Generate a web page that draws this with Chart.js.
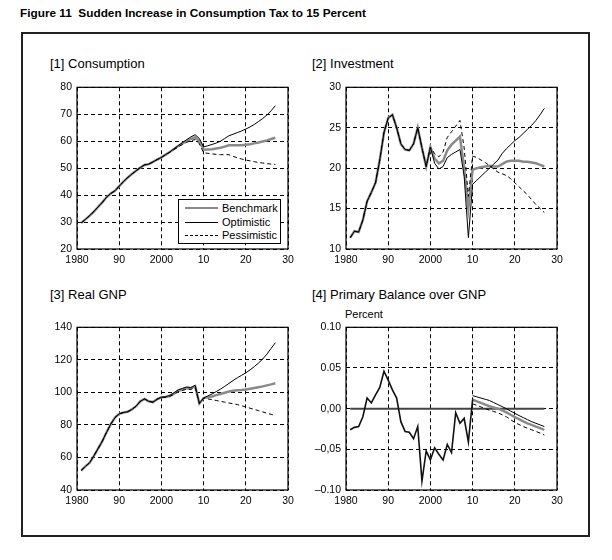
<!DOCTYPE html>
<html><head><meta charset="utf-8">
<script src="https://cdn.jsdelivr.net/npm/chart.js@4.4.1/dist/chart.umd.min.js"></script>
<style>
body{margin:0;width:612px;height:560px;background:#fff;position:relative;font-family:"Liberation Sans",Arial,sans-serif;color:#000;overflow:hidden}
.abs{position:absolute;white-space:pre}
canvas{position:absolute}
.ptitle{position:absolute;font-size:13px;line-height:15px;white-space:nowrap}
.leg{position:absolute;left:178px;top:199px;width:103px;height:45px;border:1px solid #000;background:#fff;box-sizing:border-box;z-index:5}
.row{position:absolute;left:0;height:12px;font-size:11px;line-height:12px}
.sw{position:absolute;left:6px;width:33px;top:6px}
.lt{position:absolute;left:43px;top:0}
</style></head><body>
<div class="abs" style="left:20px;top:6px;font-weight:bold;font-size:11.8px">Figure 11  Sudden Increase in Consumption Tax to 15 Percent</div>
<div class="abs" style="left:21px;top:32px;width:569px;height:505px;border:2px solid #222;box-sizing:border-box"></div>

<div class="ptitle" style="left:50px;top:56px">[1] Consumption</div>
<div class="ptitle" style="left:312px;top:56px">[2] Investment</div>
<div class="ptitle" style="left:50px;top:287px">[3] Real GNP</div>
<div class="ptitle" style="left:312px;top:287px">[4] Primary Balance over GNP</div>
<div class="abs" style="left:345px;top:308px;font-size:11px;line-height:13px">Percent</div>

<canvas id="c1" width="272" height="195" style="left:32px;top:76px"></canvas>
<canvas id="c2" width="272" height="195" style="left:301px;top:76px"></canvas>
<canvas id="c3" width="272" height="196" style="left:32px;top:316px"></canvas>
<canvas id="c4" width="272" height="196" style="left:301px;top:316px"></canvas>

<div class="leg">
  <div class="row" style="top:2px"><div class="sw" style="border-top:2.5px solid #8a8a8a;top:5px"></div><div class="lt">Benchmark</div></div>
  <div class="row" style="top:16px"><div class="sw" style="border-top:1px solid #000"></div><div class="lt">Optimistic</div></div>
  <div class="row" style="top:29px"><div class="sw" style="border-top:1px dashed #000"></div><div class="lt">Pessimistic</div></div>
</div>

<script>
// ---------- categories ----------
const years = [1981,1982,1983,1984,1985,1986,1987,1988,1989,1990,
               1991,1992,1993,1994,1995,1996,1997,1998,1999,2000,
               2001,2002,2003,2004,2005,2006,2007,2008,2009,2010,
               2011,2012,2013,2014,2015,2016,2017,2018,2019,2020,
               2021,2022,2023,2024,2025,2026,2027];
const xTickLabels = ['1980','90','2000','10','20','30'];
const pbYTickLabels = ['\u20130.10','\u20130,05','0,00','0.05','0.10'];

// ---------- [1] Consumption ----------
const consBench = [29.7,31.0,32.4,33.9,35.6,37.3,39.2,40.6,41.6,43.3,
                   45.0,46.5,47.8,49.0,50.2,51.2,51.5,52.3,53.2,54.0,
                   55.0,56.0,57.1,58.2,59.2,60.1,60.9,61.5,60.0,56.8,
                   56.9,57.0,57.3,57.6,58.0,58.5,58.5,58.5,58.5,58.7,
                   58.9,59.2,59.5,59.9,60.3,60.8,61.3];
const consOpt   = [29.7,31.0,32.4,33.9,35.6,37.3,39.2,40.6,41.6,43.3,
                   45.0,46.5,47.8,49.0,50.2,51.2,51.5,52.3,53.2,54.0,
                   55.0,56.0,57.2,58.4,59.5,60.6,61.6,62.4,61.0,57.9,
                   58.3,58.8,59.3,60.0,61.0,62.0,62.6,63.2,63.8,64.5,
                   65.3,66.2,67.3,68.4,69.7,71.3,73.2];
const consPess  = [29.7,31.0,32.4,33.9,35.6,37.3,39.2,40.6,41.6,43.3,
                   45.0,46.5,47.8,49.0,50.2,51.2,51.5,52.3,53.2,54.0,
                   55.0,55.9,56.9,57.9,58.8,59.6,60.2,60.6,59.0,55.7,
                   55.5,55.3,55.1,55.0,55.0,55.0,54.4,53.8,53.4,53.0,
                   52.7,52.4,52.1,51.9,51.7,51.5,51.4];

// ---------- [2] Investment ----------
const invBench = [11.4,12.2,12.1,13.6,15.9,17.0,18.2,21.0,24.4,26.2,
                  26.6,25.0,23.0,22.3,22.2,23.0,25.0,22.5,20.2,22.6,
                  21.2,20.6,20.9,22.2,22.9,23.4,23.9,20.0,15.0,19.8,
                  20.0,20.1,20.2,20.3,20.2,20.2,20.5,20.8,20.9,20.9,
                  20.9,20.8,20.8,20.7,20.6,20.4,20.2];
const invOpt   = [11.4,12.2,12.1,13.6,15.9,17.0,18.2,21.0,24.4,26.2,
                  26.6,25.0,23.0,22.3,22.2,23.0,25.0,22.5,20.2,22.6,
                  20.6,19.9,20.2,21.3,21.7,22.0,22.3,19.0,11.4,18.0,
                  18.5,19.0,19.5,20.0,20.5,21.0,21.8,22.4,22.9,23.4,
                  23.8,24.3,24.8,25.3,25.9,26.6,27.4];
const invPess  = [11.4,12.2,12.1,13.6,15.9,17.0,18.2,21.0,24.4,26.2,
                  26.6,25.0,23.0,22.3,22.2,23.0,25.0,22.5,20.2,22.6,
                  21.8,21.4,22.0,23.8,24.5,25.2,25.9,22.5,16.5,21.5,
                  21.3,21.0,20.7,20.3,19.9,19.5,19.3,19.1,18.7,18.2,
                  17.7,17.2,16.7,16.1,15.5,15.0,14.5];

// ---------- [3] Real GNP ----------
const gnpBench = [52.0,54.5,56.8,61.0,65.5,70.0,75.5,80.5,84.5,86.8,
                  87.6,88.1,89.5,91.5,94.5,96.0,94.5,94.0,95.8,97.0,
                  97.2,97.8,99.2,101.0,101.8,102.7,102.5,103.8,93.2,96.5,
                  97.0,97.5,98.3,99.0,99.8,100.5,101.0,101.3,101.5,101.8,
                  102.2,102.7,103.2,103.7,104.3,104.9,105.6];
const gnpOpt   = [52.0,54.5,56.8,61.0,65.5,70.0,75.5,80.5,84.5,86.8,
                  87.6,88.1,89.5,91.5,94.5,96.0,94.5,94.0,95.8,97.0,
                  97.3,98.2,99.8,101.6,102.5,103.3,103.0,104.4,93.2,96.6,
                  97.8,99.0,100.5,102.0,103.7,105.5,107.3,109.0,110.5,112.0,
                  113.8,115.8,118.0,120.5,123.5,127.0,130.5];
const gnpPess  = [52.0,54.5,56.8,61.0,65.5,70.0,75.5,80.5,84.5,86.8,
                  87.6,88.1,89.5,91.5,94.5,96.0,94.5,94.0,95.8,97.0,
                  97.0,97.6,98.8,100.5,101.2,102.0,101.8,103.0,93.0,96.4,
                  96.0,95.5,95.0,94.5,94.0,93.5,93.0,92.5,91.8,91.0,
                  90.3,89.5,88.8,88.0,87.2,86.5,85.8];

// ---------- [4] Primary balance over GNP ----------
const pbHistYears = years.slice(0, 30);   // 1981-2010
const pbProjYears = years.slice(29);      // 2010-2027
const pbHist  = [-0.026,-0.023,-0.022,-0.010,0.013,0.007,0.017,0.026,0.046,0.035,
                 0.023,0.013,-0.016,-0.028,-0.029,-0.037,-0.022,-0.089,-0.052,-0.063,
                 -0.048,-0.056,-0.063,-0.044,-0.054,-0.005,-0.018,-0.012,-0.041,0.011];
const pbOpt   = [0.016,0.0145,0.013,0.0115,0.010,0.0075,0.005,0.0025,0.000,-0.003,
                 -0.0057,-0.0085,-0.011,-0.0135,-0.016,-0.018,-0.020,-0.022];
const pbBench = [0.011,0.009,0.007,0.005,0.003,0.0015,0.000,-0.002,-0.0045,-0.0075,
                 -0.0105,-0.013,-0.0155,-0.018,-0.020,-0.022,-0.024,-0.026];
const pbPess  = [0.006,0.004,0.002,0.000,-0.002,-0.0035,-0.005,-0.0075,-0.010,-0.0135,
                 -0.017,-0.0195,-0.022,-0.024,-0.026,-0.028,-0.030,-0.0325];
const zeroYears = [1981, 2027];
const zeroVals  = [0, 0];

// ---------- helpers ----------
const pts = (xs, ys) => xs.map((x, i) => ({x: x, y: ys[i]}));
const STY = {
  opt:   {borderColor:'#000', borderWidth:1},
  pess:  {borderColor:'#000', borderWidth:1, borderDash:[4,3]},
  bench: {borderColor:'#8a8a8a', borderWidth:2.5},
  hist:  {borderColor:'#111', borderWidth:1.6},
  zero:  {borderColor:'#444', borderWidth:2}
};
const ds = (label, data, sty) => Object.assign({label, data, pointRadius:0, tension:0, fill:false}, sty);

Chart.defaults.font.family = '"Liberation Sans", Arial, sans-serif';
Chart.defaults.color = '#000';

const framePlugin = {
  id: 'frame',
  afterDatasetsDraw(chart) {
    const {ctx, chartArea: a} = chart;
    ctx.save();
    ctx.strokeStyle = '#000';
    ctx.lineWidth = 1.2;
    ctx.strokeRect(a.left, a.top, a.right - a.left, a.bottom - a.top);
    ctx.restore();
  }
};

function makeChart(id, datasets, yMin, yMax, yStep, yLabels) {
  const gridOpts = {color:'#000', lineWidth:1, drawTicks:false};
  const borderOpts = {display:false, dash:[4,3]};
  return new Chart(document.getElementById(id), {
    type: 'line',
    data: {datasets},
    options: {
      responsive:false, animation:false,
      layout:{padding:{top:10, right:16, left:0, bottom:0}},
      plugins:{legend:{display:false}, tooltip:{enabled:false}},
      scales:{
        x:{type:'linear', min:1980, max:2030,
           afterFit:s => { s.height = 22; },
           ticks:{stepSize:10, padding:5, autoSkip:false, maxRotation:0, font:{size:10.5},
                  callback:(v, i) => xTickLabels[i]},
           grid:gridOpts, border:borderOpts},
        y:{type:'linear', min:yMin, max:yMax,
           afterFit:s => { s.width = 45; },
           ticks:{stepSize:yStep, padding:5, font:{size:10.5},
                  callback:(v, i) => yLabels ? yLabels[i] : String(v)},
           grid:gridOpts, border:borderOpts}
      }
    },
    plugins:[framePlugin]
  });
}

makeChart('c1', [
  ds('Optimistic', pts(years, consOpt), STY.opt),
  ds('Pessimistic', pts(years, consPess), STY.pess),
  ds('Benchmark', pts(years, consBench), STY.bench)
], 20, 80, 10);

makeChart('c2', [
  ds('Optimistic', pts(years, invOpt), STY.opt),
  ds('Pessimistic', pts(years, invPess), STY.pess),
  ds('Benchmark', pts(years, invBench), STY.bench)
], 10, 30, 5);

makeChart('c3', [
  ds('Optimistic', pts(years, gnpOpt), STY.opt),
  ds('Pessimistic', pts(years, gnpPess), STY.pess),
  ds('Benchmark', pts(years, gnpBench), STY.bench)
], 40, 140, 20);

makeChart('c4', [
  ds('History', pts(pbHistYears, pbHist), STY.hist),
  ds('Optimistic', pts(pbProjYears, pbOpt), STY.opt),
  ds('Pessimistic', pts(pbProjYears, pbPess), STY.pess),
  ds('Benchmark', pts(pbProjYears, pbBench), STY.bench),
  ds('Zero', pts(zeroYears, zeroVals), STY.zero)
], -0.1, 0.1, 0.05, pbYTickLabels);
</script>
</body></html>
